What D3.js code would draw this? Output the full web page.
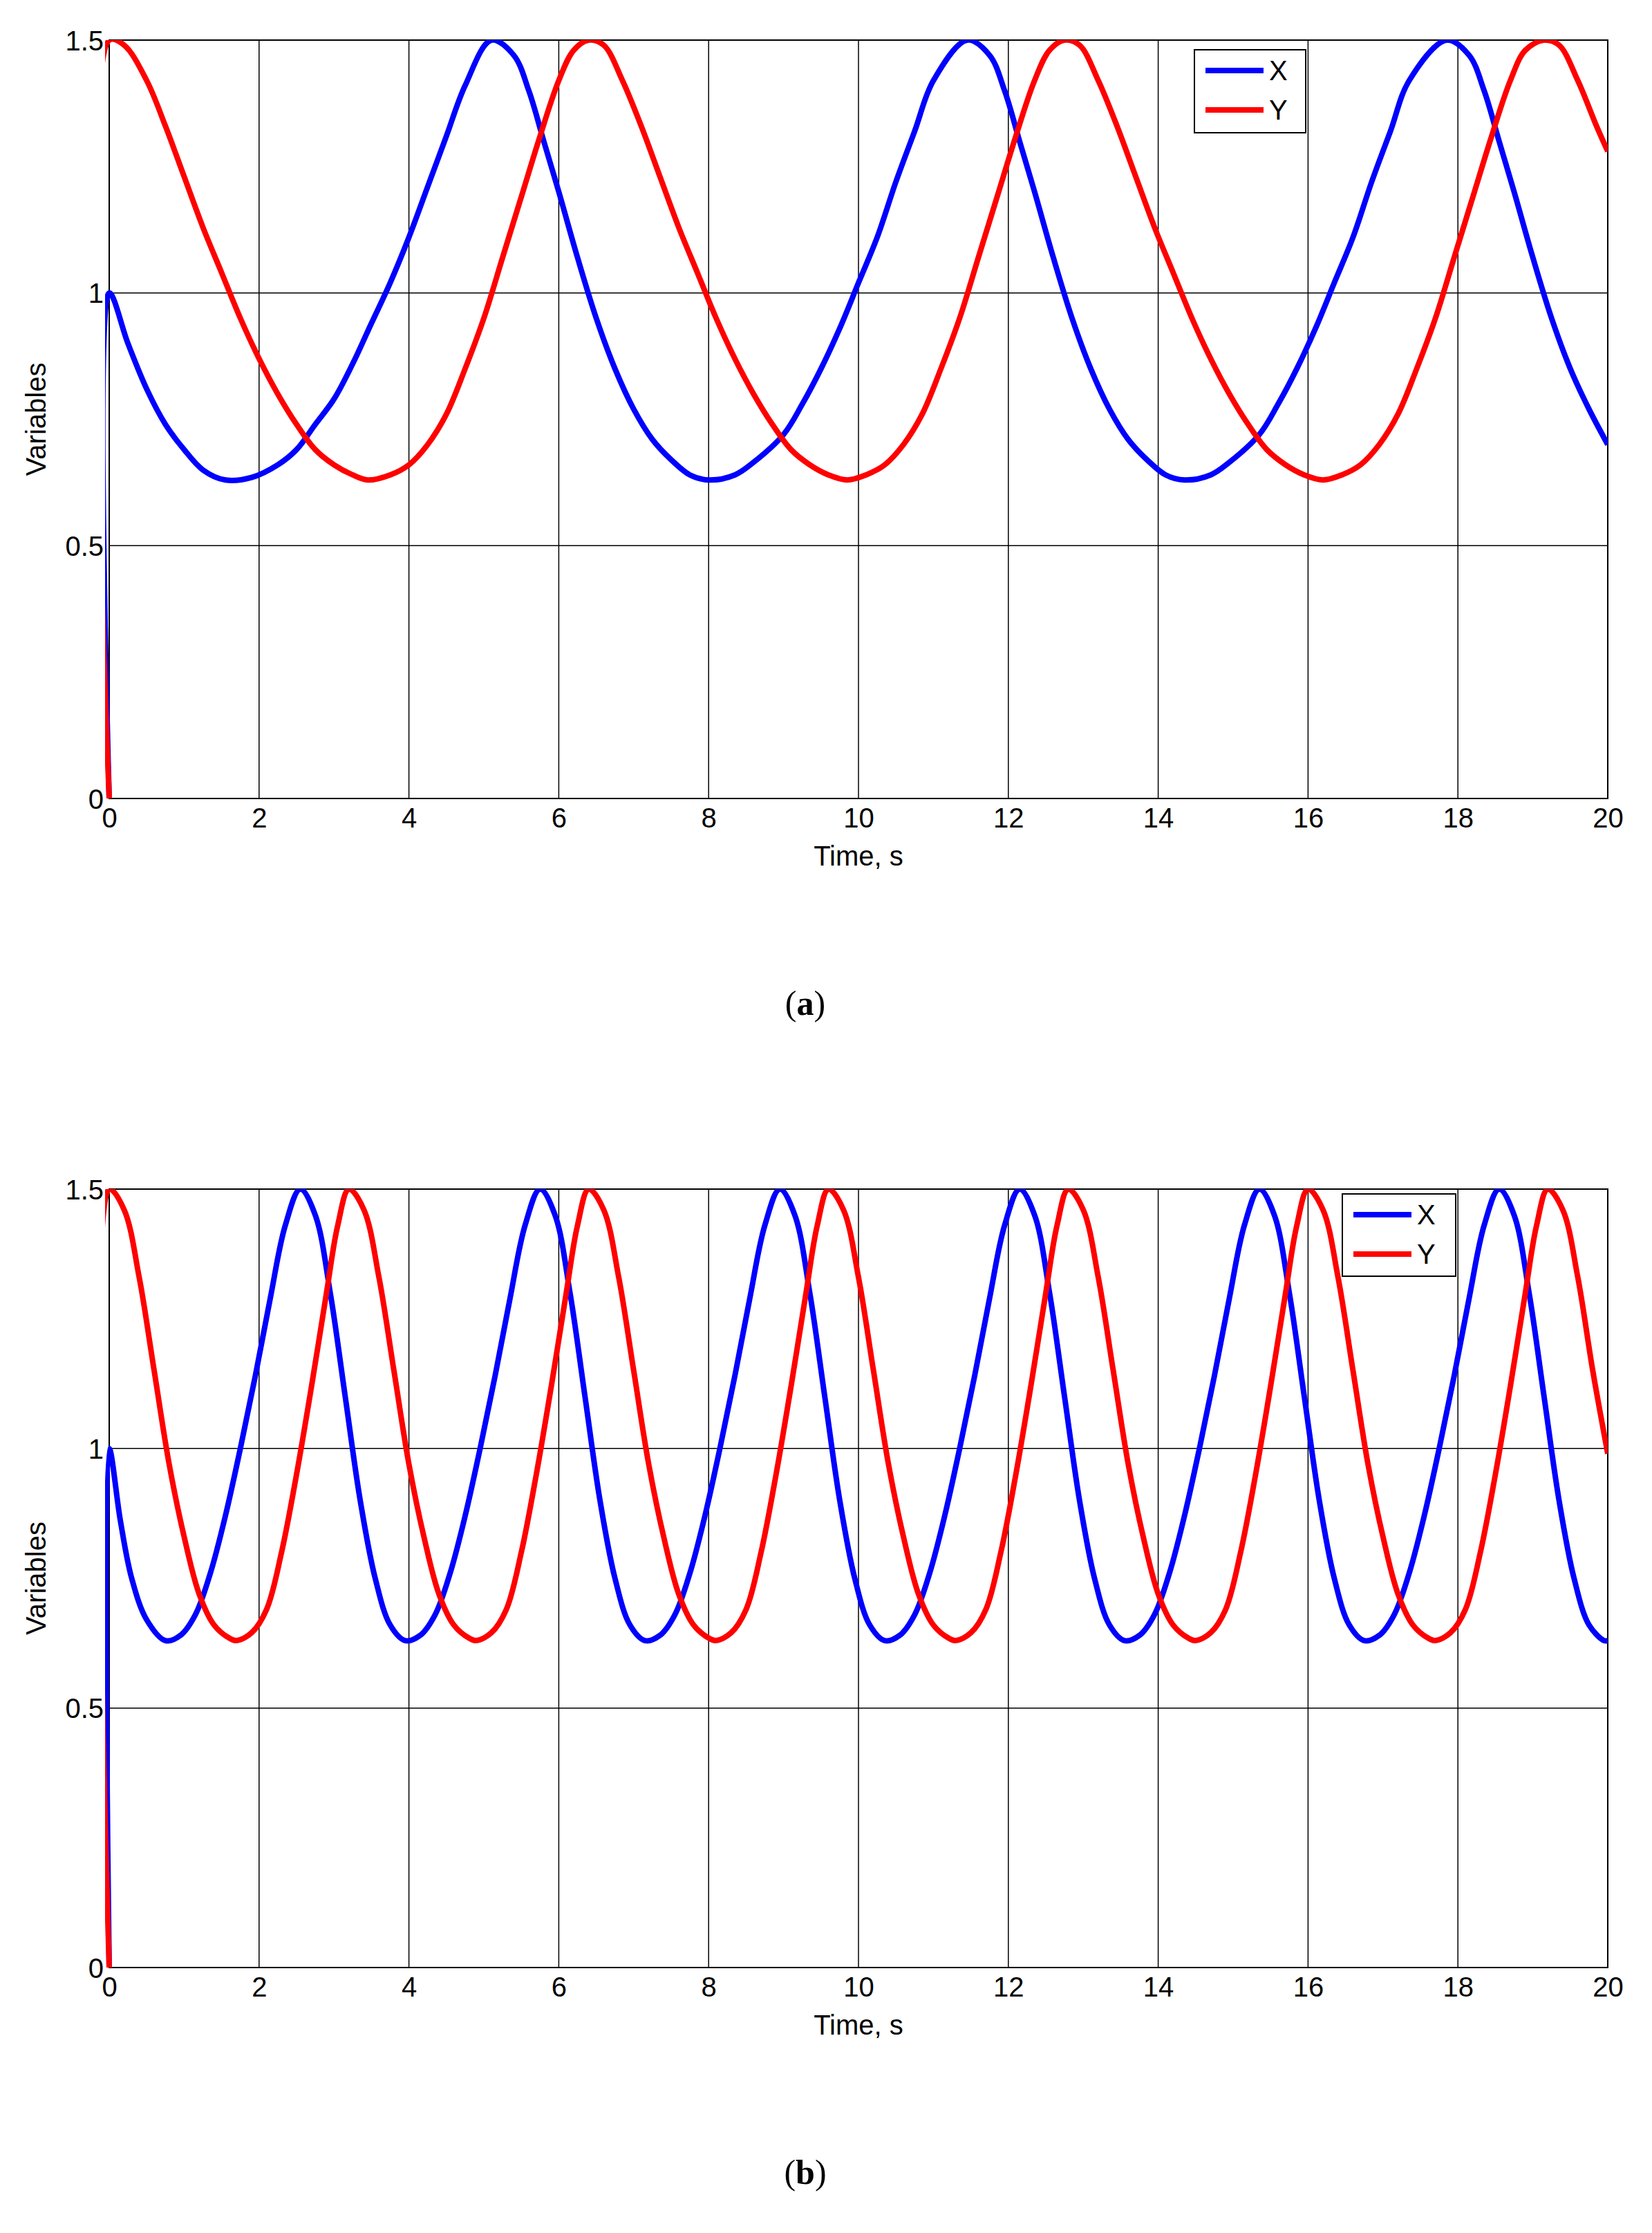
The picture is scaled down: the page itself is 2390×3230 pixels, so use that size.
<!DOCTYPE html>
<html><head><meta charset="utf-8">
<script src="https://cdn.jsdelivr.net/npm/d3@7"></script>
<style>body{margin:0;background:#fff}</style>
</head><body><div id="chart"></div>
<script>
const xTicks = [0, 2, 4, 6, 8, 10, 12, 14, 16, 18, 20];
const yTicks = [0, 0.5, 1, 1.5];
const yTickLabels = ["0", "0.5", "1", "1.5"];
const seriesNames = ["X", "Y"];
const panelLabels = ["a", "b"];

// panel (a): [time, value]
const xA = [[0,0],[0,1.0],[0.25,0.9],[0.5,0.81],[0.75,0.74],[1.0,0.69],[1.25,0.65],[1.55,0.63],[1.9,0.635],[2.25,0.66],[2.5,0.69],[2.75,0.74],[3.0,0.79],[3.25,0.86],[3.5,0.94],[3.75,1.02],[4.0,1.11],[4.25,1.21],[4.5,1.31],[4.75,1.41],[5.1,1.5],[5.4,1.47],[5.6,1.4],[5.8,1.3],[6.0,1.2],[6.25,1.07],[6.5,0.95],[6.75,0.85],[7.0,0.77],[7.25,0.71],[7.5,0.67],[7.75,0.64],[8.0,0.63],[8.35,0.64],[8.6,0.665],[9.0,0.72],[9.25,0.78],[9.5,0.85],[9.75,0.93],[10.0,1.02],[10.25,1.11],[10.5,1.22],[10.75,1.32],[11.0,1.42],[11.45,1.5],[11.75,1.47],[11.95,1.4],[12.15,1.3],[12.35,1.2],[12.6,1.07],[12.85,0.95],[13.1,0.85],[13.35,0.77],[13.6,0.71],[13.85,0.67],[14.1,0.64],[14.35,0.63],[14.7,0.64],[14.95,0.665],[15.35,0.72],[15.6,0.78],[15.85,0.85],[16.1,0.93],[16.35,1.02],[16.6,1.11],[16.85,1.22],[17.1,1.32],[17.35,1.42],[17.85,1.5],[18.15,1.47],[18.35,1.4],[18.55,1.3],[18.75,1.2],[19.0,1.07],[19.25,0.95],[19.5,0.85],[19.75,0.77],[20,0.7]];
const yA = [[0,0],[0,1.5],[0.2,1.49],[0.5,1.42],[0.75,1.33],[1.0,1.23],[1.25,1.13],[1.5,1.04],[1.75,0.95],[2.0,0.87],[2.25,0.8],[2.5,0.74],[2.75,0.69],[3.0,0.66],[3.25,0.64],[3.45,0.63],[3.75,0.64],[4.0,0.66],[4.25,0.7],[4.5,0.76],[4.75,0.85],[5.0,0.95],[5.25,1.07],[5.5,1.19],[5.75,1.31],[6.0,1.42],[6.2,1.48],[6.4,1.5],[6.6,1.49],[6.85,1.42],[7.1,1.33],[7.35,1.23],[7.6,1.13],[7.85,1.04],[8.1,0.95],[8.35,0.87],[8.6,0.8],[8.85,0.74],[9.1,0.69],[9.35,0.66],[9.6,0.64],[9.85,0.63],[10.1,0.64],[10.35,0.66],[10.6,0.7],[10.85,0.76],[11.1,0.85],[11.35,0.95],[11.6,1.07],[11.85,1.19],[12.1,1.31],[12.35,1.42],[12.55,1.48],[12.75,1.5],[12.95,1.49],[13.2,1.42],[13.45,1.33],[13.7,1.23],[13.95,1.13],[14.2,1.04],[14.45,0.95],[14.7,0.87],[14.95,0.8],[15.2,0.74],[15.45,0.69],[15.7,0.66],[15.95,0.64],[16.2,0.63],[16.45,0.64],[16.7,0.66],[16.95,0.7],[17.2,0.76],[17.45,0.85],[17.7,0.95],[17.95,1.07],[18.2,1.19],[18.45,1.31],[18.7,1.42],[18.9,1.48],[19.15,1.5],[19.35,1.49],[19.6,1.42],[19.85,1.33],[20,1.28]];

// panel (b)
const xB = [[0,0],[0,1.0],[0.15,0.86],[0.3,0.75],[0.5,0.67],[0.75,0.63],[0.95,0.64],[1.15,0.68],[1.35,0.76],[1.55,0.87],[1.75,1.0],[1.95,1.14],[2.15,1.29],[2.35,1.43],[2.55,1.5],[2.75,1.45],[2.95,1.3],[3.15,1.1],[3.35,0.9],[3.55,0.75],[3.75,0.66],[3.95,0.63],[4.15,0.64],[4.35,0.68],[4.55,0.76],[4.75,0.87],[4.95,1.0],[5.15,1.14],[5.35,1.29],[5.55,1.43],[5.75,1.5],[5.95,1.45],[6.15,1.3],[6.35,1.1],[6.55,0.9],[6.75,0.75],[6.95,0.66],[7.15,0.63],[7.35,0.64],[7.55,0.68],[7.75,0.76],[7.95,0.87],[8.15,1.0],[8.35,1.14],[8.55,1.29],[8.75,1.43],[8.95,1.5],[9.15,1.45],[9.35,1.3],[9.55,1.1],[9.75,0.9],[9.95,0.75],[10.15,0.66],[10.35,0.63],[10.55,0.64],[10.75,0.68],[10.95,0.76],[11.15,0.87],[11.35,1.0],[11.55,1.14],[11.75,1.29],[11.95,1.43],[12.15,1.5],[12.35,1.45],[12.55,1.3],[12.75,1.1],[12.95,0.9],[13.15,0.75],[13.35,0.66],[13.55,0.63],[13.75,0.64],[13.95,0.68],[14.15,0.76],[14.35,0.87],[14.55,1.0],[14.75,1.14],[14.95,1.29],[15.15,1.43],[15.35,1.5],[15.55,1.45],[15.75,1.3],[15.95,1.1],[16.15,0.9],[16.35,0.75],[16.55,0.66],[16.75,0.63],[16.95,0.64],[17.15,0.68],[17.35,0.76],[17.55,0.87],[17.75,1.0],[17.95,1.14],[18.15,1.29],[18.35,1.43],[18.55,1.5],[18.75,1.45],[18.95,1.3],[19.15,1.1],[19.35,0.9],[19.55,0.75],[19.75,0.66],[19.95,0.63],[20,0.63]];
const yB = [[0,0],[0,1.5],[0.2,1.46],[0.4,1.33],[0.6,1.15],[0.8,0.97],[1.0,0.83],[1.2,0.72],[1.4,0.66],[1.6,0.635],[1.7,0.63],[1.9,0.645],[2.1,0.69],[2.3,0.8],[2.5,0.95],[2.7,1.12],[2.9,1.3],[3.05,1.43],[3.2,1.5],[3.4,1.46],[3.6,1.33],[3.8,1.15],[4.0,0.97],[4.2,0.83],[4.4,0.72],[4.6,0.66],[4.8,0.635],[4.9,0.63],[5.1,0.645],[5.3,0.69],[5.5,0.8],[5.7,0.95],[5.9,1.12],[6.1,1.3],[6.25,1.43],[6.4,1.5],[6.6,1.46],[6.8,1.33],[7.0,1.15],[7.2,0.97],[7.4,0.83],[7.6,0.72],[7.8,0.66],[8.0,0.635],[8.1,0.63],[8.3,0.645],[8.5,0.69],[8.7,0.8],[8.9,0.95],[9.1,1.12],[9.3,1.3],[9.45,1.43],[9.6,1.5],[9.8,1.46],[10.0,1.33],[10.2,1.15],[10.4,0.97],[10.6,0.83],[10.8,0.72],[11.0,0.66],[11.2,0.635],[11.3,0.63],[11.5,0.645],[11.7,0.69],[11.9,0.8],[12.1,0.95],[12.3,1.12],[12.5,1.3],[12.65,1.43],[12.8,1.5],[13.0,1.46],[13.2,1.33],[13.4,1.15],[13.6,0.97],[13.8,0.83],[14.0,0.72],[14.2,0.66],[14.4,0.635],[14.5,0.63],[14.7,0.645],[14.9,0.69],[15.1,0.8],[15.3,0.95],[15.5,1.12],[15.7,1.3],[15.85,1.43],[16.0,1.5],[16.2,1.46],[16.4,1.33],[16.6,1.15],[16.8,0.97],[17.0,0.83],[17.2,0.72],[17.4,0.66],[17.6,0.635],[17.7,0.63],[17.9,0.645],[18.1,0.69],[18.3,0.8],[18.5,0.95],[18.7,1.12],[18.9,1.3],[19.05,1.43],[19.2,1.5],[19.4,1.46],[19.6,1.33],[19.8,1.15],[20,0.99]];

const colors = ["#0000ff", "#ff0000"];
const width = 2390, height = 3230;
const font = "'Liberation Sans', Arial, sans-serif";

const svg = d3.select("#chart").append("svg")
  .attr("width", width).attr("height", height)
  .attr("viewBox", [0, 0, width, height]);

const panels = [
  { top: 58, bottom: 1155, data: [xA, yA], legend: { x: 1728, y: 72, w: 161, h: 120 }, caption: 1468 },
  { top: 1720, bottom: 2846, data: [xB, yB], legend: { x: 1942, y: 1727, w: 164, h: 119 }, caption: 3159 }
];
const left = 158, right = 2326;

panels.forEach((p, i) => {
  const x = d3.scaleLinear().domain([0, 20]).range([left, right]);
  const y = d3.scaleLinear().domain([0, 1.5]).range([p.bottom, p.top]);
  const g = svg.append("g");
  const clipId = "clip" + i;
  g.append("clipPath").attr("id", clipId).append("rect")
    .attr("x", left - 6).attr("y", p.top).attr("width", right - left + 6).attr("height", p.bottom - p.top);

  // grid
  g.selectAll(".vg").data(xTicks).join("line")
    .attr("x1", d => x(d)).attr("x2", d => x(d)).attr("y1", p.top).attr("y2", p.bottom)
    .attr("stroke", "#000").attr("stroke-width", 1.5);
  g.selectAll(".hg").data(yTicks).join("line")
    .attr("x1", left).attr("x2", right).attr("y1", d => y(d)).attr("y2", d => y(d))
    .attr("stroke", "#000").attr("stroke-width", 1.5);
  g.append("rect").attr("x", left).attr("y", p.top).attr("width", right - left).attr("height", p.bottom - p.top)
    .attr("fill", "none").attr("stroke", "#000").attr("stroke-width", 2);

  // axes
  const xa = g.append("g").attr("transform", `translate(0,${p.bottom})`)
    .call(d3.axisBottom(x).tickValues(xTicks).tickSize(0).tickPadding(14).tickFormat(d3.format("d")));
  const ya = g.append("g").attr("transform", `translate(${left},0)`)
    .call(d3.axisLeft(y).tickValues(yTicks).tickSize(0).tickPadding(8).tickFormat((d, k) => yTickLabels[k]));
  [xa, ya].forEach(a => {
    a.select(".domain").remove();
    a.selectAll("text").attr("font-family", font).attr("font-size", 40).attr("fill", "#000");
  });
  ya.selectAll("text").attr("dy", "0.35em");

  g.append("text").attr("x", x(10)).attr("y", p.bottom + 97).attr("text-anchor", "middle")
    .attr("font-family", font).attr("font-size", 40).text("Time, s");
  g.append("text").attr("transform", `translate(66,${(p.top + p.bottom) / 2}) rotate(-90)`)
    .attr("text-anchor", "middle").attr("font-family", font).attr("font-size", 40).text("Variables");

  const line = d3.line().x(d => x(d[0])).y(d => y(d[1])).curve(d3.curveCatmullRom.alpha(0.5));
  p.data.forEach((s, k) => {
    g.append("path").datum(s).attr("d", line).attr("fill", "none")
      .attr("stroke", colors[k]).attr("stroke-width", 8).attr("clip-path", `url(#${clipId})`);
  });

  // legend
  const L = p.legend;
  g.append("rect").attr("x", L.x).attr("y", L.y).attr("width", L.w).attr("height", L.h)
    .attr("fill", "#fff").attr("stroke", "#000").attr("stroke-width", 2);
  seriesNames.forEach((n, k) => {
    const ly = L.y + 30 + k * 57;
    g.append("line").attr("x1", L.x + 16).attr("x2", L.x + 100).attr("y1", ly).attr("y2", ly)
      .attr("stroke", colors[k]).attr("stroke-width", 8);
    g.append("text").attr("x", L.x + 108).attr("y", ly).attr("dy", "0.35em")
      .attr("font-family", font).attr("font-size", 40).text(n);
  });

  // caption
  const cap = svg.append("text").attr("x", 1165).attr("y", p.caption).attr("text-anchor", "middle")
    .attr("font-family", "'Liberation Serif', 'DejaVu Serif', serif").attr("font-size", 50);
  cap.append("tspan").text("(");
  cap.append("tspan").attr("font-weight", "bold").text(panelLabels[i]);
  cap.append("tspan").text(")");
});
</script>
</body></html>
